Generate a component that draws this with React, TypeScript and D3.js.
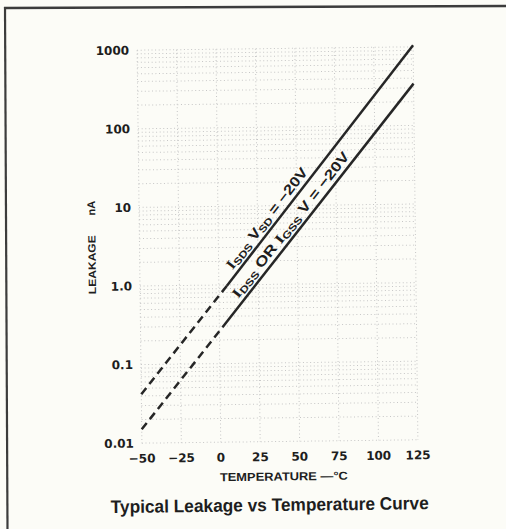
import React from "react";
import * as d3 from "d3";

// ---- data ----
const xTicks = [-50, -25, 0, 25, 50, 75, 100, 125];
const xTickLabels = ["−50", "−25", "0", "25", "50", "75", "100", "125"];
const yTicks = [0.01, 0.1, 1, 10, 100, 1000];
const yTickLabels = ["0.01", "0.1", "1.0", "10", "100", "1000"];
const minorMultipliers = [2, 3, 4, 5, 6, 7, 8, 9];

// I_SDS (upper line): dashed from -50 to break, solid from break to 125
const isdsTemps = [-50, 5, 125];
const isdsValues = [0.042, 0.97, 1050];
// I_DSS or I_GSS (lower line)
const idssTemps = [-50, 2, 125];
const idssValues = [0.015, 0.29, 340];

const W = 506;
const H = 529;
const BG = "#fcfcf7";
const INK = "#1e1e1e";
const GRID = "#c6c6c6";

export default function App() {
  const x = d3.scaleLinear().domain([-50, 125]).range([139.5, 415.5]);
  const y = d3.scaleLog().domain([0.01, 1000]).range([441.5, 48.5]);

  const line = d3
    .line<[number, number]>()
    .x((d) => x(d[0]))
    .y((d) => y(d[1]));

  const seg = (t: number[], v: number[], a: number, b: number) =>
    line([
      [t[a], v[a]],
      [t[b], v[b]],
    ]) as string;

  // horizontal grid values
  const hGrid: number[] = [];
  yTicks.forEach((t, i) => {
    hGrid.push(t);
    if (i < yTicks.length - 1) minorMultipliers.forEach((m) => hGrid.push(t * m));
  });

  // label placement along solid segments
  const labelPos = (t: number[], v: number[], along: number, offset: number) => {
    const x0 = x(t[1]);
    const y0 = y(v[1]);
    const x1 = x(t[2]);
    const y1 = y(v[2]);
    const len = Math.hypot(x1 - x0, y1 - y0);
    const ux = (x1 - x0) / len;
    const uy = (y1 - y0) / len;
    const nx = uy;
    const ny = -ux;
    const px = x0 + ux * along + nx * offset;
    const py = y0 + uy * along + ny * offset;
    const ang = (Math.atan2(uy, ux) * 180) / Math.PI;
    return `translate(${px},${py}) rotate(${ang})`;
  };

  const sans = "'Liberation Sans', Arial, sans-serif";
  const tickFont = "'DejaVu Sans', sans-serif";

  return (
    <svg
      width={W}
      height={H}
      style={{ position: "absolute", left: 0, top: 0, background: BG }}
    >
      <rect x={0} y={0} width={W} height={H} fill={BG} />
      {/* frame */}
      <line x1={4} y1={8} x2={506} y2={6} stroke="#3c3c3c" strokeWidth={2.6} />
      <line x1={5} y1={7} x2={7.5} y2={529} stroke="#3c3c3c" strokeWidth={2.2} />

      <g transform="rotate(-0.7, 277, 245)">
        {/* grid */}
        <g stroke={GRID} strokeWidth={1} strokeDasharray="1 2.6" fill="none">
          {hGrid.map((v, i) => (
            <line key={"h" + i} x1={x(-50)} x2={x(125)} y1={y(v)} y2={y(v)} />
          ))}
          {xTicks.map((t, i) => (
            <line key={"v" + i} x1={x(t)} x2={x(t)} y1={y(1000)} y2={y(0.01)} />
          ))}
        </g>

        {/* lines */}
        <g fill="none" stroke="#262626" strokeWidth={2.5}>
          <path d={seg(isdsTemps, isdsValues, 0, 1)} strokeDasharray="8 5" />
          <path d={seg(isdsTemps, isdsValues, 1, 2)} />
          <path d={seg(idssTemps, idssValues, 0, 1)} strokeDasharray="8 5" />
          <path d={seg(idssTemps, idssValues, 1, 2)} />
        </g>

        {/* line labels */}
        <text
          transform={labelPos(isdsTemps, isdsValues, 16, 5)}
          fontFamily={sans}
          fontWeight="bold"
          fontSize={14}
          fill={INK}
          textLength={124}
          lengthAdjust="spacingAndGlyphs"
        >
          <tspan fontFamily="'Liberation Serif', serif">I</tspan>
          <tspan fontSize={10} dy={2}>SDS</tspan>
          <tspan dy={-2}> V</tspan>
          <tspan fontSize={10} dy={2}>SD</tspan>
          <tspan dy={-2}> = −20V</tspan>
        </text>
        <text
          transform={labelPos(idssTemps, idssValues, 32, 5)}
          fontFamily={sans}
          fontWeight="bold"
          fontSize={14}
          fill={INK}
          textLength={181}
          lengthAdjust="spacingAndGlyphs"
        >
          <tspan fontFamily="'Liberation Serif', serif">I</tspan>
          <tspan fontSize={10} dy={2}>DSS</tspan>
          <tspan dy={-2}> OR </tspan>
          <tspan fontFamily="'Liberation Serif', serif">I</tspan>
          <tspan fontSize={10} dy={2}>GSS</tspan>
          <tspan dy={-2}> V = −20V</tspan>
        </text>

        {/* y tick labels */}
        <g fontFamily={tickFont} fontWeight="bold" fontSize={12} fill={INK} textAnchor="end">
          {yTicks.map((t, i) => (
            <text key={"yl" + i} x={x(-50) - 8} y={y(t)} dy="0.36em">
              {yTickLabels[i]}
            </text>
          ))}
        </g>
        {/* x tick labels */}
        <g fontFamily={tickFont} fontWeight="bold" fontSize={12} fill={INK} textAnchor="middle">
          {xTicks.map((t, i) => (
            <text key={"xl" + i} x={x(t)} y={461}>
              {xTickLabels[i]}
            </text>
          ))}
        </g>

        {/* axis titles */}
        <text
          x={281}
          y={480.5}
          textAnchor="middle"
          fontFamily={sans}
          fontWeight="bold"
          fontSize={11.5}
          fill={INK}
          textLength={128}
          lengthAdjust="spacingAndGlyphs"
        >
          TEMPERATURE —°C
        </text>
        <text
          transform="translate(95.5,262.5) rotate(-90)"
          textAnchor="middle"
          fontFamily={sans}
          fontWeight="bold"
          fontSize={10.5}
          fill={INK}
          textLength={59}
          lengthAdjust="spacingAndGlyphs"
        >
          LEAKAGE
        </text>
        <text
          transform="translate(95.5,206) rotate(-90)"
          textAnchor="middle"
          fontFamily={sans}
          fontWeight="bold"
          fontSize={11}
          fill={INK}
        >
          nA
        </text>

        {/* chart title */}
        <text
          x={266.5}
          y={511}
          textAnchor="middle"
          fontFamily={sans}
          fontWeight="bold"
          fontSize={18}
          fill={INK}
          textLength={318}
          lengthAdjust="spacingAndGlyphs"
        >
          Typical Leakage vs Temperature Curve
        </text>
      </g>
    </svg>
  );
}
